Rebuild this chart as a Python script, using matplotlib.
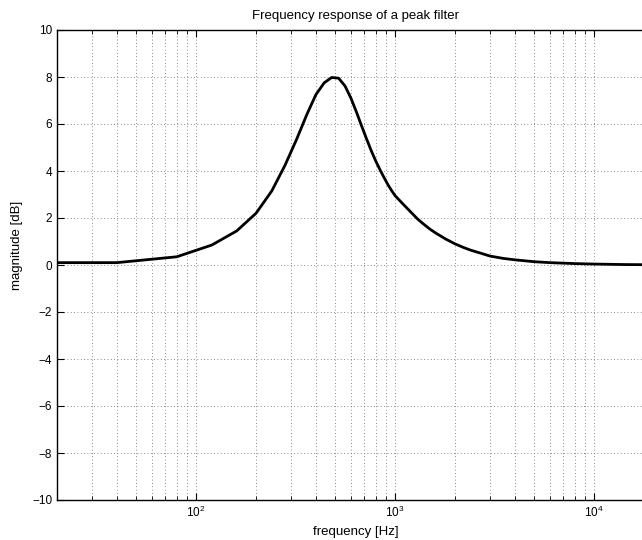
import numpy as np
import matplotlib
matplotlib.use('Agg')
import matplotlib.pyplot as plt
from matplotlib.ticker import LogLocator, NullFormatter

plt.rcParams['font.family'] = ['Liberation Sans', 'DejaVu Sans']
plt.rcParams['mathtext.fontset'] = 'custom'
plt.rcParams['mathtext.rm'] = 'Liberation Sans'
plt.rcParams['mathtext.it'] = 'Liberation Sans'

# frequency [Hz] and magnitude [dB]
freq = [20, 40, 80, 120, 160, 200, 240, 280, 320, 360, 400, 440, 480, 520,
        560, 600, 640, 680, 720, 760, 800, 840, 880, 920, 960, 1000,
        1050, 1100, 1200, 1300, 1400, 1500, 1600, 1800, 2000, 2200, 2400,
        2700, 3000, 3500, 4000, 5000, 6000, 8000, 10000, 14000, 20000]
mag = [0.10, 0.10, 0.35, 0.85, 1.45, 2.20, 3.15, 4.25, 5.35, 6.40, 7.25,
       7.75, 7.98, 7.95, 7.62, 7.10, 6.50, 5.90, 5.35, 4.85, 4.42, 4.05,
       3.72, 3.42, 3.17, 2.95, 2.76, 2.58, 2.25, 1.95, 1.72, 1.52, 1.36,
       1.10, 0.90, 0.75, 0.63, 0.50, 0.38, 0.28, 0.22, 0.14, 0.10, 0.06,
       0.04, 0.02, 0.01]

fig = plt.figure(figsize=(6.42, 5.4), dpi=100)
ax = fig.add_axes([57/642, 40/540, 597/642, 470/540])

ax.semilogx(freq, mag, color='k', linewidth=2)
ax.set_xlim(20, 20000)
ax.set_ylim(-10, 10)
ax.set_yticks(np.arange(-10, 11, 2))
ax.xaxis.set_major_locator(LogLocator(base=10))
ax.xaxis.set_minor_locator(LogLocator(base=10, subs=np.arange(2, 10)))
ax.xaxis.set_minor_formatter(NullFormatter())

ax.grid(True, which='major', linestyle=(0, (1, 3)), color='0.4', linewidth=0.6)
ax.grid(True, which='minor', axis='x', linestyle=(0, (1, 3)), color='0.4', linewidth=0.6)

ax.tick_params(which='both', direction='in', top=True, right=True, labelsize=8.5)
ax.tick_params(which='major', length=5)
ax.tick_params(which='minor', length=3)
for s in ax.spines.values():
    s.set_linewidth(1)

ax.set_title('Frequency response of a peak filter', fontsize=9.5, pad=8)
ax.set_xlabel('frequency [Hz]', fontsize=9.5, va='center')
ax.xaxis.set_label_coords(0.5, -32/470)
ax.set_ylabel('magnitude [dB]', fontsize=9.5, va='center')
ax.yaxis.set_label_coords(-40/597, (500 - 245) / 470)

fig.savefig('out.png', dpi=100)
